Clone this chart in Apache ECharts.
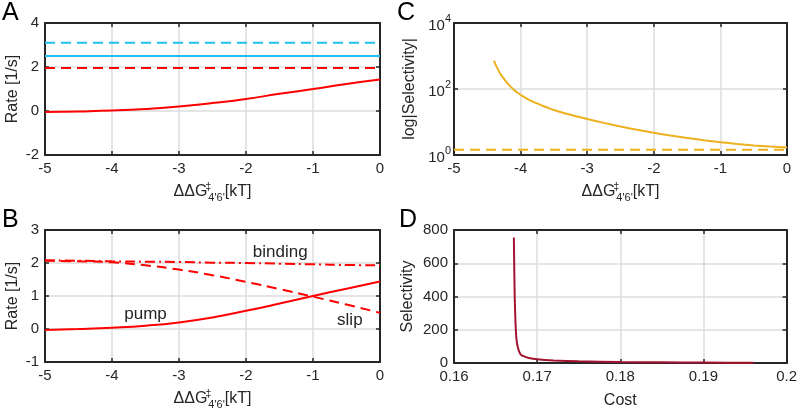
<!DOCTYPE html>
<html>
<head>
<meta charset="utf-8">
<script src="https://cdn.jsdelivr.net/npm/echarts@6/dist/echarts.min.js"></script>
<style>html,body{margin:0;padding:0;background:#fff;}#c{width:800px;height:414px;}</style>
</head>
<body>
<div id="c"></div>
<script>
// ---- Data ----
const dG = [-5, -4.5, -4, -3.5, -3, -2.5, -2, -1.5, -1, -0.5, 0];
// Panel A
const aPump = [-0.05, -0.02, 0.02, 0.09, 0.2, 0.36, 0.55, 0.78, 1.0, 1.23, 1.43];
const aCyanDash = [3.1, 3.1, 3.1, 3.1, 3.1, 3.1, 3.1, 3.1, 3.1, 3.1, 3.1];
const aCyanSolid = [2.5, 2.5, 2.5, 2.5, 2.5, 2.5, 2.5, 2.5, 2.5, 2.5, 2.5];
const aRedDash = [1.95, 1.95, 1.95, 1.95, 1.95, 1.95, 1.95, 1.95, 1.95, 1.95, 1.95];
// Panel B
const bPump = [-0.03, 0.0, 0.04, 0.1, 0.2, 0.35, 0.55, 0.77, 1.0, 1.22, 1.44];
const bBinding = [2.08, 2.07, 2.05, 2.04, 2.03, 2.01, 2.0, 1.98, 1.96, 1.94, 1.93];
const bSlip = [2.07, 2.05, 2.02, 1.93, 1.8, 1.63, 1.43, 1.21, 0.98, 0.74, 0.49];
const bLabels = [
  { text: 'pump', x: -3.5, y: 0.46 },
  { text: 'binding', x: -1.49, y: 2.33 },
  { text: 'slip', x: -0.45, y: 0.26 }
];
// Panel C
const cX = [-4.4, -4.37, -4.33, -4.3, -4.25, -4.2, -4.15, -4.1, -4.05, -4, -3.9, -3.8, -3.7, -3.6, -3.5, -3.25, -3, -2.75, -2.5, -2.25, -2, -1.75, -1.5, -1.25, -1, -0.75, -0.5, -0.25, 0];
const cSel = [720, 520, 360, 280, 205, 150, 118, 95, 78, 66, 50, 40, 33, 27.5, 23, 16.5, 12.3, 9.4, 7.3, 5.8, 4.7, 3.9, 3.3, 2.8, 2.45, 2.15, 1.95, 1.8, 1.68];
const cBaseX = [-5, 0];
const cBase = [1.45, 1.45];
// Panel D
const dCost = [0.1672, 0.16725, 0.1673, 0.1674, 0.1675, 0.1677, 0.168, 0.1685, 0.169, 0.17, 0.172, 0.175, 0.18, 0.185, 0.19, 0.196];
const dSel = [755, 560, 400, 240, 150, 90, 52, 38, 30, 22, 15, 10, 6, 4, 2.7, 1.7];

// ---- Styles ----
const INK = '#262626';
const GRIDC = '#dcdcdc';
const FONT = 'Liberation Sans';
const RED = '#ff0000';
const CYAN = '#1fbfef';
const ORANGE = '#edb120';
const WINE = '#a2142f';

const pair = (xs, ys) => xs.map((x, i) => [x, ys[i]]);

const grids = [
  { left: 45, top: 23, width: 335, height: 132 },
  { left: 45, top: 230, width: 335, height: 132 },
  { left: 454, top: 23, width: 333, height: 132 },
  { left: 454, top: 230, width: 333, height: 133 }
];

const xName = {
  name: 'ΔΔG{dag|‡}{sub|4\'6\'}[kT]',
  nameLocation: 'middle',
  nameGap: 26,
  nameTextStyle: {
    color: INK, fontFamily: FONT, fontSize: 16, lineHeight: 22,
    rich: {
      dag: { fontSize: 11, fontFamily: FONT, color: INK, width: 0, lineHeight: 11, verticalAlign: 'top', padding: [0, 0, 0, 1] },
      sub: { fontSize: 11, fontFamily: FONT, color: INK, lineHeight: 11, verticalAlign: 'bottom' }
    }
  }
};

function mainAxis(gi, pos, extra) {
  return Object.assign({
    gridIndex: gi,
    position: pos,
    type: 'value',
    axisLine: { show: true, onZero: false, lineStyle: { color: INK, width: 2 } },
    axisTick: { show: true, inside: true, length: 4, lineStyle: { color: INK, width: 1.5 } },
    axisLabel: { show: true, color: INK, fontFamily: FONT, fontSize: 15, margin: 6 },
    splitLine: { show: true, lineStyle: { color: GRIDC, width: 1.5 } }
  }, extra);
}
function mirrorAxis(gi, pos, extra) {
  return Object.assign({
    gridIndex: gi,
    position: pos,
    type: 'value',
    axisLine: { show: true, onZero: false, lineStyle: { color: INK, width: 2 } },
    axisTick: { show: true, inside: true, length: 4, lineStyle: { color: INK, width: 1.5 } },
    axisLabel: { show: false },
    splitLine: { show: false }
  }, extra);
}

const dGx = { min: -5, max: 0, interval: 1 };
const xAxes = [
  mainAxis(0, 'bottom', Object.assign({}, dGx, xName)),
  mirrorAxis(0, 'top', dGx),
  mainAxis(1, 'bottom', Object.assign({}, dGx, xName)),
  mirrorAxis(1, 'top', dGx),
  mainAxis(2, 'bottom', Object.assign({}, dGx, xName)),
  mirrorAxis(2, 'top', dGx),
  mainAxis(3, 'bottom', {
    min: 0.16, max: 0.2, interval: 0.01,
    name: 'Cost', nameLocation: 'middle', nameGap: 30,
    nameTextStyle: { color: INK, fontFamily: FONT, fontSize: 16 },
    axisLabel: { show: true, color: INK, fontFamily: FONT, fontSize: 15, margin: 6,
      formatter: v => String(+v.toFixed(2)) }
  }),
  mirrorAxis(3, 'top', { min: 0.16, max: 0.2, interval: 0.01 })
];

const yNameStyle = { color: INK, fontFamily: FONT, fontSize: 16 };
const logFmt = v => '{b|10}{s|' + Math.round(Math.log10(v)) + '}';
const logRich = {
  b: { fontFamily: FONT, fontSize: 15, color: INK, lineHeight: 20, verticalAlign: 'bottom' },
  s: { fontFamily: FONT, fontSize: 11, color: INK, lineHeight: 20, verticalAlign: 'top' }
};
const yAxes = [
  mainAxis(0, 'left', { min: -2, max: 4, interval: 2, name: 'Rate [1/s]', nameLocation: 'middle', nameGap: 24, nameTextStyle: yNameStyle }),
  mirrorAxis(0, 'right', { min: -2, max: 4, interval: 2 }),
  mainAxis(1, 'left', { min: -1, max: 3, interval: 1, name: 'Rate [1/s]', nameLocation: 'middle', nameGap: 24, nameTextStyle: yNameStyle }),
  mirrorAxis(1, 'right', { min: -1, max: 3, interval: 1 }),
  mainAxis(2, 'left', {
    type: 'log', logBase: 10, min: 1, max: 10000, interval: 2,
    name: 'log|Selectivity|', nameLocation: 'middle', nameGap: 36, nameTextStyle: yNameStyle,
    axisLabel: { show: true, margin: 3, formatter: logFmt, rich: logRich },
    minorTick: { show: false }
  }),
  mirrorAxis(2, 'right', { type: 'log', logBase: 10, min: 1, max: 10000, interval: 2 }),
  mainAxis(3, 'left', { min: 0, max: 800, interval: 200, name: 'Selectivity', nameLocation: 'middle', nameGap: 38, nameTextStyle: yNameStyle }),
  mirrorAxis(3, 'right', { min: 0, max: 800, interval: 200 })
];

function line(xi, yi, data, color, type, extra) {
  return Object.assign({
    type: 'line', xAxisIndex: xi, yAxisIndex: yi, data: data,
    showSymbol: false, symbol: 'none', smooth: true,
    lineStyle: { color: color, width: 2, type: type },
    animation: false, z: 3
  }, extra);
}

const series = [
  line(0, 0, pair(dG, aCyanDash), CYAN, [10, 6], { smooth: false }),
  line(0, 0, pair(dG, aCyanSolid), CYAN, 'solid', { smooth: false }),
  line(0, 0, pair(dG, aRedDash), RED, [10, 6], { smooth: false }),
  line(0, 0, pair(dG, aPump), RED, 'solid'),
  line(2, 2, pair(dG, bPump), RED, 'solid', {
    markPoint: {
      symbol: 'circle', symbolSize: 0, animation: false,
      itemStyle: { color: 'rgba(0,0,0,0)' },
      label: { show: true, position: 'inside', color: INK, fontFamily: FONT, fontSize: 17, formatter: p => p.name },
      data: bLabels.map(l => ({ name: l.text, coord: [l.x, l.y] }))
    }
  }),
  line(2, 2, pair(dG, bBinding), RED, [10, 4, 2, 4]),
  line(2, 2, pair(dG, bSlip), RED, [10, 6]),
  line(4, 4, pair(cBaseX, cBase), ORANGE, [10, 6], { smooth: false }),
  line(4, 4, pair(cX, cSel), ORANGE, 'solid', { smooth: 0.2 }),
  line(6, 6, pair(dCost, dSel), WINE, 'solid', { smooth: 0.2 })
];

const titleStyle = { fill: '#000', font: '25px "Liberation Sans"' };
const chart = echarts.init(document.getElementById('c'), null, { renderer: 'canvas' });
chart.setOption({
  backgroundColor: '#fff',
  animation: false,
  grid: grids,
  xAxis: xAxes,
  yAxis: yAxes,
  series: series,
  graphic: [
    { type: 'text', left: 2, top: 1, style: Object.assign({ text: 'A' }, titleStyle) },
    { type: 'text', left: 2, top: 208, style: Object.assign({ text: 'B' }, titleStyle) },
    { type: 'text', left: 397, top: 1, style: Object.assign({ text: 'C' }, titleStyle) },
    { type: 'text', left: 399, top: 208, style: Object.assign({ text: 'D' }, titleStyle) }
  ]
});
</script>
</body>
</html>
